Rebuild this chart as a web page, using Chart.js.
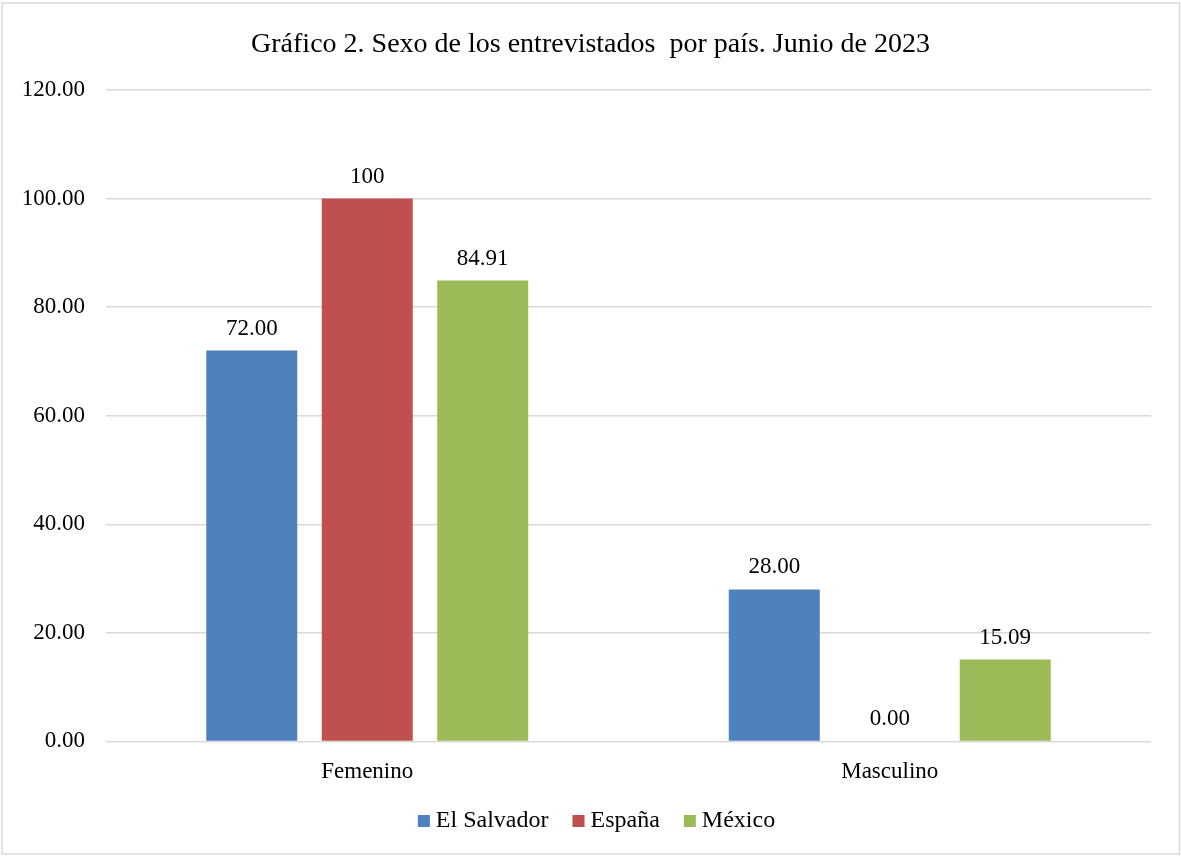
<!DOCTYPE html>
<html>
<head>
<meta charset="utf-8">
<script src="https://cdn.jsdelivr.net/npm/chart.js@4.4.1/dist/chart.umd.min.js"></script>
<style>
  html, body { margin: 0; padding: 0; background: #ffffff; }
  #wrap { position: relative; width: 1181px; height: 856px; }
</style>
</head>
<body>
<div id="wrap"><canvas id="grafico" width="1181" height="856"></canvas></div>
<script>
// Categorías del eje X
const categorias = ['Femenino', 'Masculino'];

// Porcentaje de entrevistados por país
const elSalvador = [72.00, 28.00];
const espana = [100, 0.00];
const mexico = [84.91, 15.09];

// Decimales que muestra cada etiqueta de valor
const decElSalvador = [2, 2];
const decEspana = [0, 2];
const decMexico = [2, 2];

// Marcas del eje Y
const ticksY = [0, 20, 40, 60, 80, 100, 120];

const TITULO = 'Gráfico 2. Sexo de los entrevistados  por país. Junio de 2023';
const FUENTE = "'Liberation Serif', 'Times New Roman', serif";

// Etiquetas de valor encima de cada barra
const etiquetasValor = {
  id: 'etiquetasValor',
  afterDatasetsDraw(chart) {
    const ctx = chart.ctx;
    ctx.save();
    ctx.font = '23px ' + FUENTE;
    ctx.fillStyle = '#000000';
    ctx.textAlign = 'center';
    ctx.textBaseline = 'middle';
    chart.data.datasets.forEach((ds, i) => {
      const meta = chart.getDatasetMeta(i);
      meta.data.forEach((bar, j) => {
        const v = ds.data[j];
        ctx.fillText(v.toFixed(ds.decimales[j]), bar.x, bar.y - 22);
      });
    });
    ctx.restore();
  }
};

// Título, leyenda inferior y marco gris alrededor del gráfico
const tituloLeyendaMarco = {
  id: 'tituloLeyendaMarco',
  afterDraw(chart) {
    const ctx = chart.ctx;
    ctx.save();
    ctx.fillStyle = '#000000';
    ctx.textBaseline = 'middle';

    ctx.font = '28px ' + FUENTE;
    ctx.textAlign = 'center';
    ctx.fillText(TITULO, chart.width / 2, 45);

    // Leyenda: cuadro de color + nombre del país
    ctx.font = '24px ' + FUENTE;
    ctx.textAlign = 'left';
    const caja = 12, separacion = 6, entreItems = 24;
    const items = chart.data.datasets.map(ds => ({
      texto: ds.label,
      color: ds.backgroundColor,
      ancho: caja + separacion + ctx.measureText(ds.label).width
    }));
    const total = items.reduce((s, it) => s + it.ancho, 0) + entreItems * (items.length - 1);
    let x = chart.width / 2 + 6 - total / 2;
    const y = 821;
    items.forEach(it => {
      ctx.fillStyle = it.color;
      ctx.fillRect(x, y - caja / 2, caja, caja);
      ctx.fillStyle = '#000000';
      ctx.fillText(it.texto, x + caja + separacion, y);
      x += it.ancho + entreItems;
    });

    ctx.strokeStyle = '#d9d9d9';
    ctx.lineWidth = 1.5;
    ctx.strokeRect(2, 3, chart.width - 3.5, chart.height - 5);
    ctx.restore();
  }
};

new Chart(document.getElementById('grafico'), {
  type: 'bar',
  data: {
    labels: categorias,
    datasets: [
      { label: 'El Salvador', data: elSalvador, decimales: decElSalvador, backgroundColor: '#4F81BD' },
      { label: 'España', data: espana, decimales: decEspana, backgroundColor: '#C0504D' },
      { label: 'México', data: mexico, decimales: decMexico, backgroundColor: '#9BBB59' }
    ]
  },
  options: {
    responsive: false,
    animation: false,
    devicePixelRatio: 1,
    categoryPercentage: 0.663,
    barPercentage: 0.788,
    layout: { padding: { top: 90, left: 0, right: 30, bottom: 53 } },
    plugins: {
      title: { display: false },
      legend: { display: false },
      tooltip: { enabled: false }
    },
    scales: {
      x: {
        grid: { display: false, drawTicks: false },
        border: { display: false },
        ticks: {
          color: '#000000',
          font: { family: FUENTE, size: 23 },
          padding: 17
        }
      },
      y: {
        min: 0,
        max: 120,
        afterBuildTicks(scale) {
          scale.ticks = ticksY.map(v => ({ value: v }));
        },
        afterFit(scale) { scale.width = 106; },
        grid: { color: '#d9d9d9', lineWidth: 1.5, drawTicks: false },
        border: { display: false },
        ticks: {
          color: '#000000',
          font: { family: FUENTE, size: 23 },
          padding: 21,
          callback: v => Number(v).toFixed(2)
        }
      }
    }
  },
  plugins: [etiquetasValor, tituloLeyendaMarco]
});
</script>
</body>
</html>
